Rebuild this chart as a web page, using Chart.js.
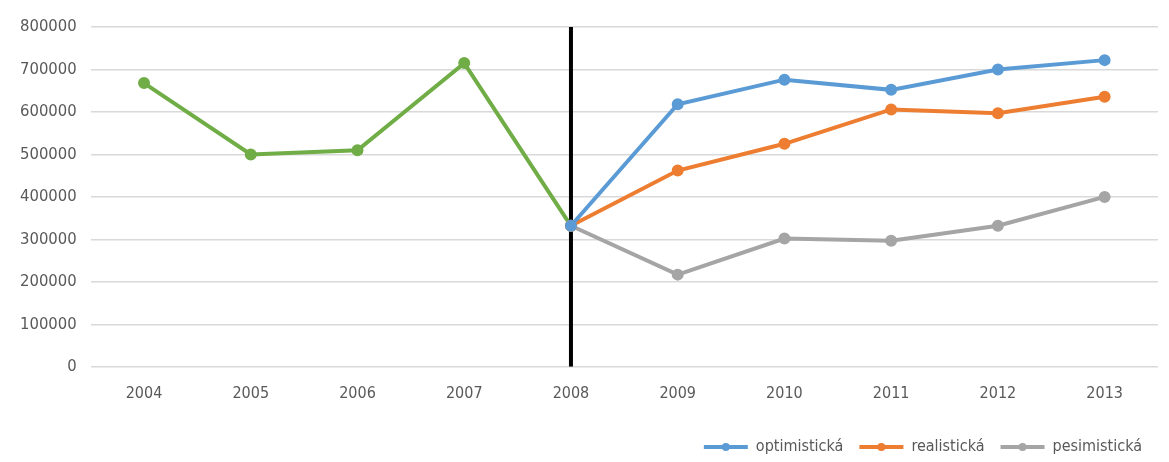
<!DOCTYPE html>
<html>
<head>
<meta charset="utf-8">
<script src="https://cdn.jsdelivr.net/npm/chart.js@4/dist/chart.umd.min.js"></script>
<style>
html,body{margin:0;padding:0;background:#fff;}
#wrap{width:1169px;height:462px;}
</style>
</head>
<body>
<div id="wrap"><canvas id="c" width="1169" height="462"></canvas></div>
<script>
const years = ['2004','2005','2006','2007','2008','2009','2010','2011','2012','2013'];
const historical = [668000, 500000, 510000, 715000, 332000, null, null, null, null, null];
const optimisticka = [null, null, null, null, 332000, 618000, 676000, 652000, 700000, 722000];
const realisticka = [null, null, null, null, 332000, 462000, 525000, 606000, 597000, 636000];
const pesimisticka = [null, null, null, null, 332000, 217000, 302000, 297000, 332000, 400000];
const dividerYear = '2008';
const dividerRange = [0, 800000];
const yTicks = [0, 100000, 200000, 300000, 400000, 500000, 600000, 700000, 800000];

const FONT = '"DejaVu Sans Condensed", "DejaVu Sans", sans-serif';
const TXT = '#595959';

const legendDots = {
  id: 'legendDots',
  afterDraw(chart) {
    const lg = chart.legend;
    if (!lg || !lg.legendHitBoxes) return;
    const ctx = chart.ctx;
    lg.legendItems.forEach((item, i) => {
      const hb = lg.legendHitBoxes[i];
      if (!hb) return;
      const cx = hb.left + 22;
      const cy = hb.top + hb.height / 2;
      ctx.save();
      ctx.fillStyle = item.strokeStyle;
      ctx.beginPath();
      ctx.arc(cx, cy, 4, 0, Math.PI * 2);
      ctx.fill();
      ctx.restore();
    });
  }
};

const mk = (label, data, color) => ({
  label, data, borderColor: color, backgroundColor: color,
  borderWidth: 4, pointRadius: 4, pointHoverRadius: 4,
  pointBackgroundColor: color, pointBorderColor: color,
  spanGaps: false, tension: 0
});

new Chart(document.getElementById('c'), {
  type: 'line',
  data: {
    labels: years,
    datasets: [
      mk('optimistická', optimisticka, '#5b9bd5'),
      mk('realistická', realisticka, '#ed7d31'),
      mk('pesimistická', pesimisticka, '#a5a5a5'),
      mk('historie', historical, '#70ad47'),
      {
        label: 'divider',
        data: dividerRange.map(v => ({x: dividerYear, y: v})),
        borderColor: '#000000', borderWidth: 4, pointRadius: 0,
        pointHoverRadius: 0
      }
    ]
  },
  options: {
    responsive: false,
    animation: false,
    devicePixelRatio: 1,
    layout: {padding: {top: 27, left: 6, right: 11, bottom: -3}},
    plugins: {
      tooltip: {enabled: false},
      legend: {
        position: 'bottom',
        align: 'end',
        labels: {
          filter: (item) => item.datasetIndex < 3,
          usePointStyle: true,
          pointStyle: 'line',
          pointStyleWidth: 44,
          color: TXT,
          font: {family: FONT, size: 16},
          padding: 16
        }
      }
    },
    scales: {
      x: {
        type: 'category',
        offset: true,
        grid: {display: false, drawTicks: false},
        border: {display: false},
        ticks: {color: TXT, font: {family: FONT, size: 16}, padding: 17},
        afterFit: (axis) => { axis.height += 3; }
      },
      y: {
        min: 0, max: 800000,
        afterBuildTicks: (axis) => { axis.ticks = yTicks.map(v => ({value: v})); },
        grid: {color: '#d9d9d9', lineWidth: 1.5, drawTicks: false},
        border: {display: false},
        ticks: {color: TXT, font: {family: FONT, size: 16.5}, padding: 14, callback: v => String(v)}
      }
    }
  },
  plugins: [legendDots]
});
</script>
</body>
</html>
